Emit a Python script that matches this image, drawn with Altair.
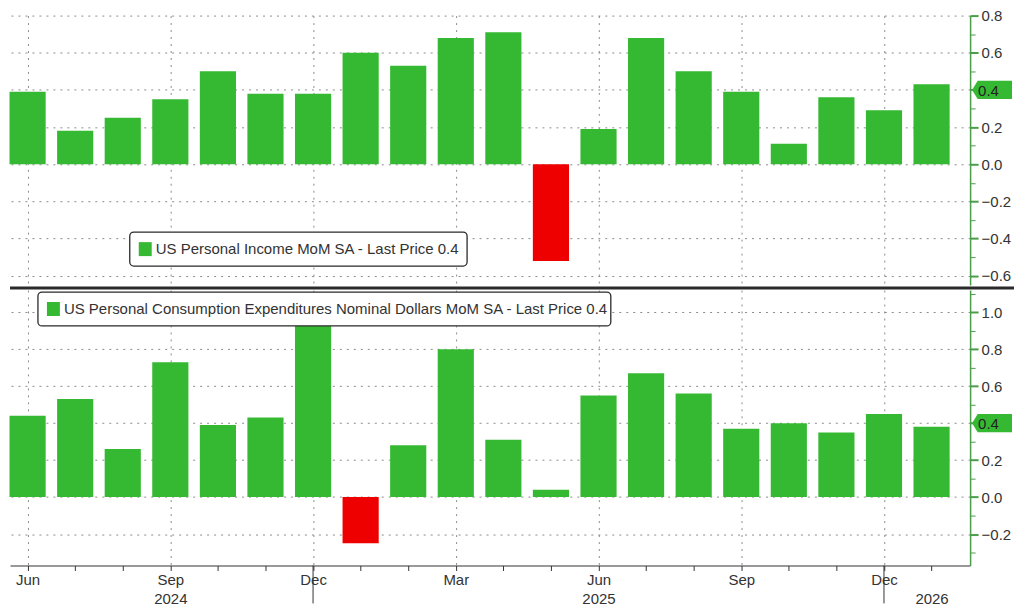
import json
import math
import altair as alt
import numpy as np
import pandas as pd

# ---------------- data ----------------
months = ["Jun", "Jul", "Aug", "Sep", "Oct", "Nov", "Dec", "Jan", "Feb", "Mar", "Apr", "May",
          "Jun", "Jul", "Aug", "Sep", "Oct", "Nov", "Dec", "Jan"]
years = ["2024"] * 7 + ["2025"] * 12 + ["2026"]
income = [0.39, 0.18, 0.25, 0.35, 0.50, 0.38, 0.38, 0.60, 0.53, 0.68, 0.71, -0.52,
          0.19, 0.68, 0.50, 0.39, 0.11, 0.36, 0.29, 0.43]
pce = [0.44, 0.53, 0.26, 0.73, 0.39, 0.43, 0.96, -0.25, 0.28, 0.80, 0.31, 0.04,
       0.55, 0.67, 0.56, 0.37, 0.40, 0.35, 0.45, 0.38]
income_title = "US Personal Income MoM SA - Last Price 0.4"
pce_title = "US Personal Consumption Expenditures Nominal Dollars MoM SA - Last Price 0.4"
last_price = [0.4, 0.4]

# ---------------- style ----------------
GREEN = "#36b932"
RED = "#ee0000"
AXIS_GREEN = "#4a9e4a"
TEXT = "#333333"
GRID = "#8c8c8c"
FONT = "Liberation Sans"
W = 962
H1 = 270
H2 = 276
X_DOMAIN = [-0.37, 19.81]

df = pd.DataFrame({"i": list(range(len(months))), "month": months, "year": years,
                   "income": income, "pce": pce})

# two-line x labels: month every quarter, year under the middle month of each year
year_mid = {}
for y in dict.fromkeys(years):
    idx = [k for k, yy in enumerate(years) if yy == y]
    year_mid[y] = idx[(len(idx) - 1) // 2]
label_lines = [[months[k] if k % 3 == 0 else "", years[k] if year_mid[years[k]] == k else ""]
               for k in range(len(months))]
x_label_expr = json.dumps(label_lines) + "[datum.value]"

quarter_grid = {"condition": {"test": "datum.value % 3 == 0", "value": 1}, "value": 0}
major_y = "abs(round(datum.value*10)) % 2 == 0"


def y_axis(lp, ticks):
    return alt.Axis(
        orient="right", title=None, values=ticks, grid=True, gridDash=[2, 5], gridColor=GRID,
        gridOpacity={"condition": {"test": major_y, "value": 1}, "value": 0},
        domainColor=AXIS_GREEN, domainWidth=1.5, tickColor=AXIS_GREEN,
        tickSize={"condition": {"test": major_y, "value": 8}, "value": 5},
        tickWidth={"condition": {"test": major_y, "value": 2}, "value": 1},
        labelExpr=f"{major_y} && abs(datum.value - {lp}) > 0.01 ? format(datum.value, '.1f') : ''",
        labelColor=TEXT, labelFont=FONT, labelFontSize=15, labelPadding=3,
    )


def panel(field, title, H, ydom, lp, legend_box, bottom):
    ticks = [round(v / 10, 1) for v in range(math.ceil(ydom[0] * 10), math.floor(ydom[1] * 10) + 1)]
    yax = y_axis(lp, ticks)
    yscale = alt.Scale(domain=ydom, nice=False, zero=False)
    xscale = alt.Scale(domain=X_DOMAIN, nice=False, zero=False)

    if bottom:
        xax = alt.Axis(values=list(range(len(months))), title=None, grid=True, gridDash=[2, 5],
                       gridColor=GRID, gridOpacity=quarter_grid, domainColor=TEXT, tickColor=TEXT,
                       tickSize=5, labelExpr=x_label_expr, labelColor=TEXT, labelFont=FONT,
                       labelFontSize=15, labelLineHeight=19, labelPadding=2, labelAngle=0,
                       labelOverlap=False, labelFlush=False)
    else:
        xax = alt.Axis(values=list(range(len(months))), title=None, grid=True, gridDash=[2, 5],
                       gridColor=GRID, gridOpacity=quarter_grid, labels=False, ticks=False,
                       domain=False)

    base = alt.Chart(df).transform_calculate(x0="datum.i - 0.38", x1="datum.i + 0.38")
    bars = base.mark_bar().encode(
        x=alt.X("x0:Q", scale=xscale, axis=xax),
        x2="x1:Q",
        y=alt.Y(f"{field}:Q", scale=yscale, axis=yax),
        y2=alt.datum(0),
        color=alt.condition(f"datum.{field} < 0", alt.value(RED), alt.value(GREEN)),
    )

    lp_df = pd.DataFrame({"lp": [lp]})
    tag = alt.Chart(lp_df).mark_point(
        shape="M-1,0L-0.72,-0.46L1,-0.46L1,0.46L-0.72,0.46Z", filled=True, opacity=1,
        color=GREEN, size=40 * 40,
    ).encode(x=alt.value(W + 22), y=alt.Y("lp:Q", scale=yscale, axis=yax))
    tag_text = alt.Chart(lp_df).mark_text(
        align="left", baseline="middle", font=FONT, fontSize=15, color="#222222", dy=1,
    ).encode(x=alt.value(W + 8), y=alt.Y("lp:Q", scale=yscale, axis=yax),
             text=alt.Text("lp:Q", format=".1f"))

    lx, ly, lw = legend_box
    leg_df = pd.DataFrame({"t": [title]})
    leg_box = alt.Chart(leg_df).mark_rect(
        fill="white", stroke="#2a2a2a", strokeWidth=1.3, cornerRadius=4,
    ).encode(x=alt.value(lx), x2=alt.value(lx + lw), y=alt.value(ly), y2=alt.value(ly + 34))
    leg_sym = alt.Chart(leg_df).mark_rect(color=GREEN).encode(
        x=alt.value(lx + 9), x2=alt.value(lx + 22), y=alt.value(ly + 10), y2=alt.value(ly + 24))
    leg_txt = alt.Chart(leg_df).mark_text(
        align="left", baseline="middle", font=FONT, fontSize=15, color=TEXT,
    ).encode(x=alt.value(lx + 26), y=alt.value(ly + 17), text="t:N")

    layers = [bars, leg_box, leg_sym, leg_txt, tag, tag_text]

    if bottom:
        seps = alt.Chart(df).transform_filter("datum.month == 'Dec'").mark_rule(
            color=TEXT, strokeWidth=1).encode(
            x=alt.X("i:Q", scale=xscale, axis=xax), y=alt.value(H), y2=alt.value(H + 38))
        layers.append(seps)
    else:
        divider = alt.Chart(lp_df).mark_rule(color="#2b2b2b", strokeWidth=3).encode(
            x=alt.value(0), x2=alt.value(W + 44), y=alt.value(H + 3))
        layers.append(divider)

    return alt.layer(*layers).properties(width=W, height=H)


top = panel("income", income_title, H1, [-0.65, 0.80], last_price[0], (120, 217, 338), False)
bot = panel("pce", pce_title, H2, [-0.37, 1.12], last_price[1], (28, 2, 574), True)

chart = alt.vconcat(top, bot, spacing=0).resolve_scale(y="independent").properties(
    padding={"left": 0, "top": 0, "right": 0, "bottom": 0}, background="white"
).configure_view(strokeWidth=0)

chart.save("out.html", embed_options={"renderer": "svg", "actions": False})
